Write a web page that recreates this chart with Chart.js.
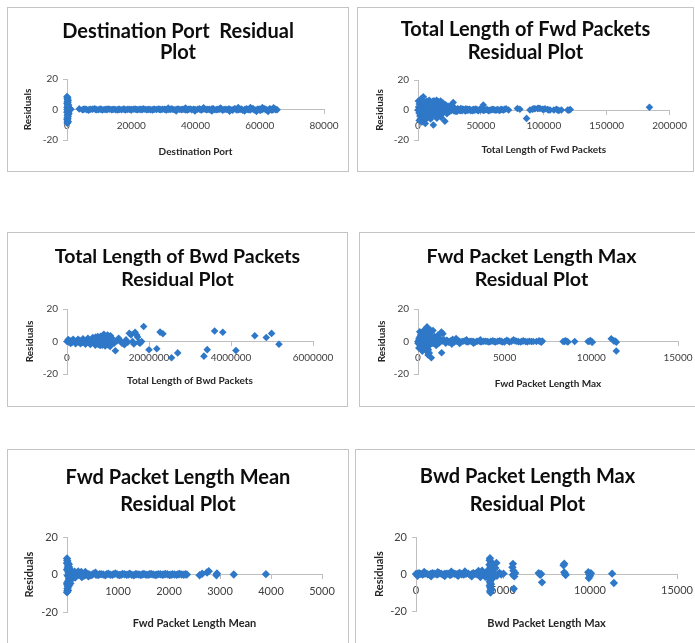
<!DOCTYPE html>
<html>
<head>
<meta charset="utf-8">
<script src="https://cdn.jsdelivr.net/npm/chart.js@4.4.0/dist/chart.umd.min.js"></script>
<style>
  html, body { margin: 0; padding: 0; background: #fff; }
  body { width: 695px; height: 643px; overflow: hidden; position: relative; }
  .panel { position: absolute; border: 1px solid #c4c4c4; box-sizing: border-box; background: #fff; }
  .panel canvas { position: absolute; left: 0; top: 0; }
</style>
</head>
<body>
<script>
(function() {
    "use strict";

    // ---- data ----
    var residualTicks = [-20, 0, 20];

    var destPortTicks = [0, 20000, 40000, 60000, 80000];
    var destPortPoints = [
        [0,8.5],[150,6.5],[300,4.5],[60,7],[220,2.5],[400,0.5],[100,-1.5],[500,3],[250,-3.5],[30,-5.5],
        [350,-2],[180,-7.5],[450,1.5],[80,-9],[600,-0.5],[280,5.5],[120,0],[380,-4.5],[0,-6.5],[200,-8.5],
        [100,8],[250,7.5],[50,5],[350,6],[150,3.5],[0,4],[450,-1],[300,-6],[100,-4],[0,-2],
        [500,-3],[200,-5.5],[400,-8],[0,1.5],[550,1],[250,0.5],[50,-8],[300,2],[150,-1],[600,-2.5],
        [700,0.3],[900,-0.3],[1200,0.2],[1000,0.5],
        [3800,0.4],
        [4800,-0.2],[5600,0.3],[6700,-0.4],[7400,0.15],[8500,0.45],[9200,-0.1],[10300,0.25],[11000,-0.3],[12100,0.1],[12800,0.35],
        [13900,-0.15],[14600,0.2],[15700,-0.25],[16400,0.05],[17600,0.3],[18200,-0.35],[19300,0.15],[20100,-0.05],[21200,0.25],[21900,-0.2],
        [23000,0.1],[23700,0.4],[24800,-0.15],[25500,0.05],[26600,-0.25],[27300,0.2],[28400,0.3],[29200,-0.1],[30300,0.15],[31000,-0.3],
        [32100,0.05],[32800,0.25],[33900,-0.2],[34600,0.35],[35700,-0.05],[36500,0.1],[37500,-0.25],[38300,0.3],[39400,0.15],[40100,-0.15],
        [41200,0.4],[41900,-0.3],[43000,0.2],[43800,0.05],[44800,-0.35],[45500,0.45],[46600,-0.1],[47400,0.25],[48400,-0.4],[49200,0.15],
        [50300,0.35],[51000,-0.2],[52100,0.5],[52900,-0.3],[53900,0.1],[54700,-0.45],[55800,0.4],[56500,-0.15],[57600,0.55],[58300,-0.35],
        [59400,0.2],[60200,-0.5],[61200,0.45],[62000,-0.25],[63100,0.5],[63800,-0.4],[64700,0.3],[65400,-0.2],
        [5200,0.1],[6150,-0.1],[7050,0],[7950,0.2],[8850,0.1],[9750,-0.2],[10650,0.1],[11550,0],[12450,-0.1],[13350,0.2],
        [14250,0],[15150,-0.1],[16050,0.1],[17000,-0.2],[17900,0.1],[18750,0.1],[19700,-0.1],[20650,0.2],[21550,0],[22450,0.1],
        [23350,-0.1],[24250,0.2],[25150,0],[26050,-0.1],[26950,0.1],[27850,0],[28800,0.1],[29750,0.2],[30650,-0.1],[31550,0.1],
        [32450,0.3],[33350,-0.2],[34250,0.1],[35150,0],[36100,0.2],[37000,-0.3],[37900,0.2],[38850,-0.1],[39750,0],[40650,0.2],
        [41550,-0.1],[42450,0.3],[43400,-0.2],[44300,0.1],[45150,0.4],[46050,-0.2],[47000,0.1],[47900,0.3],[48800,-0.2],[49750,0],
        [50650,0.2],[51550,-0.4],[52500,0.3],[53400,-0.1],[54300,0.3],[55250,-0.1],[56150,0.2],[57050,-0.3],[57950,0.4],[58850,-0.2],
        [59800,0.3],[60700,-0.1],[61600,0.4],[62550,-0.3],[63450,0.2],[64250,0.1],[65050,-0.1],
        [31500,0.9],[34000,-0.9],[36900,1],[39800,-1],[42500,1.1],[45100,-1],[47800,1],[50600,-1.1],[53300,1.2],[55300,-1],
        [57100,1.3],[59000,-1.2],[60800,1.2],[62600,-1.3],[64300,1.1]
    ];

    var fwdTotalTicks = [0, 50000, 100000, 150000, 200000];
    var fwdTotalPoints = [
        [0,0],[300,6],[500,2],[800,-2],[1000,4],[1500,-4],[1800,-6],[2000,1],[2500,-1],[3000,3],
        [3500,-3],[4000,5.5],[4200,8.8],[4500,-5],[5000,0],[5500,2],[5800,-9],[6000,-2],[6500,4],[7000,-1],
        [7500,1],[8000,3],[8500,-3],[9000,0],[9500,5],[10000,2],[10500,-2],[11000,-4],[11500,0],[12000,6],
        [12200,-10],[12500,3],[13000,-1],[13500,1],[14000,4],[14800,6.5],[15000,-3],[15500,0],[16000,2],[16500,5.5],
        [17000,-1],[17500,1],[18000,3],[18500,-5],[19000,0],[19500,4],[20000,-2],[20500,1],[21400,-7.5],[21000,3],
        [22000,0],[22500,-1],[23000,2],[24000,0.5],[25000,-1],[26000,1],[27000,0],[28000,5],[28500,-0.5],[29000,1.5],
        [30000,0],[31000,-1],[32000,0.5],[33000,0],[34000,1],[35000,-0.5],[36000,0.3],[37000,0],[38000,0.8],[39000,-0.3],
        [40000,0],[41000,0.5],[42000,-0.5],[43000,0],[44000,0.4],[45000,-0.2],[46000,0.6],[47000,0],[48000,-0.4],[49000,0.3],
        [51900,3.3],[50000,0],[52000,-0.3],[54000,0.2],[56000,-0.5],[58000,0],[60000,0.3],[62000,-0.2],[64000,0],[66000,0.5],
        [68000,0],[70000,0.8],[72000,0],[79000,1],[81000,0.5],[86300,-5.6],[89000,0],[91000,0.5],[93000,0.8],[95000,1],
        [97000,1],[99000,0.5],[101000,0.8],[103000,0.3],[105000,0],[108000,0],[110000,0.5],[112000,-0.3],[114000,0],[119000,0],
        [121000,0.3],[184000,1.8],
        [3000,7],[7000,6],[9000,6.5],[11000,5],[13000,6],[16000,4.5],[18000,6],[20000,4.5],[22000,3.5],[24000,2.5],
        [26000,3],[3000,-8],[7000,-5],[10000,-6],[15000,-5.5],[1000,-7],[2500,7.5],[6000,-6.5],[17000,-3.5],[23000,-2.5],
        [1200,1],[2200,3.5],[3200,-1.5],[4200,2],[5200,-2.5],[6200,1.5],[7200,3],[8200,-1],[9200,2],[10200,-0.5],
        [11200,3],[12200,1],[13200,-2],[14200,2],[15200,1],[16200,-1.5],[17200,2.5],[18200,1],[19200,-1],[20200,2.5],
        [21200,0],[22200,1.5],[23200,-0.5],[24200,1.5],[25200,0],[26200,-0.5],[27200,1.5],[29500,-0.8],[31500,0.8],[33500,-0.4],
        [35500,0.6],[37500,-0.6],[39500,0.5],[41500,0],[43500,-0.4],[45500,0.4],[47500,-0.2],[49500,0.6],[53000,0],[55000,0.3],
        [57000,-0.2],[59000,0.4],[61000,0],[63000,0.3],[65000,-0.3],[67000,0.2],[69000,0.5],[92000,0.8],[96000,1.2],[100000,0.3],
        [104000,0],[111000,0],[120000,-0.2]
    ];

    var bwdTotalTicks = [0, 2000000, 4000000, 6000000];
    var bwdTotalPoints = [
        [0,0],[60000,0.5],[120000,-0.5],[180000,0.3],[240000,-0.3],[300000,0.6],[360000,-0.6],[420000,0.2],[480000,-0.8],[540000,0.8],
        [600000,-0.4],[660000,1],[720000,-1],[780000,0.5],[840000,-1.2],[900000,1.5],[960000,-0.5],[1020000,1],
        [30000,1.2],[90000,-1.2],[150000,1.4],[210000,-1.4],[270000,1.4],[330000,-1.4],[390000,1.7],[450000,-1.7],[510000,2],[570000,-1.8],
        [630000,2.5],[690000,-2.2],[750000,3],[810000,-2.5],[870000,3.5],[930000,-2.8],[990000,4],[1050000,-3],[1000000,2],[880000,-1],
        [1060000,3.5],[960000,3],
        [20000,0.2],[45000,-0.2],[75000,0.1],[100000,0.3],[135000,-0.1],[165000,0.2],[195000,-0.3],[225000,0.1],[255000,0.4],[285000,-0.2],
        [315000,0.1],[345000,0.3],[375000,-0.4],[405000,0.2],[435000,0.5],[465000,-0.3],[495000,0.4],[525000,-0.5],[555000,0.6],[585000,0.1],
        [615000,-0.6],[645000,0.7],[675000,-0.2],[705000,0.8],[735000,0.3],[765000,-0.7],[795000,1.2],[825000,0.2],[855000,-0.5],[885000,1.8],
        [915000,0.5],[945000,-1.5],[975000,1],[1005000,-1],[1035000,0.5],
        [640000,1.8],[700000,2.8],[760000,-1.8],[820000,3.2],[860000,-2.2],[900000,4.5],[940000,2.5],[980000,-2],[1020000,3],[1040000,-2],
        [1100000,2],[1150000,-1],[1180000,-5.7],[1220000,0.5],[1260000,2],[1300000,0.4],[1340000,-1],[1400000,-2],[1440000,1],[1480000,-0.5],
        [1520000,5.1],[1560000,4.1],[1600000,0],[1630000,-1.5],[1660000,5.7],[1700000,4],[1720000,2.7],[1750000,-0.5],[1780000,-1],[1820000,0],
        [1870000,9.2],[2000000,-5.1],[2190000,-4.5],[2270000,5.8],[2340000,4.8],[2550000,-10],[2700000,-7],[3340000,-9],[3420000,-5],[3600000,6.5],
        [3800000,5.7],[4120000,-5.5],[4580000,3.5],[4860000,2.5],[4990000,5],[5170000,-1.7]
    ];

    var fwdMaxTicks = [0, 5000, 10000, 15000];
    var fwdMaxPoints = [
        [0,0],[60,2],[100,-2],[150,4],[200,-3],[250,1],[300,3],[350,-1],[400,5],[440,-5.2],
        [480,2],[520,9],[560,-3],[580,-8.3],[600,6],[640,0],[670,4],[700,-2],[720,7],[770,-10],
        [800,2.5],[865,6.7],[900,-1],[950,3],[1000,0],[1050,-2.5],[1100,1.5],[1150,4],[1200,-1],[1250,2],
        [1300,0],[1350,5.8],[1365,-6.9],[1440,4.8],[1500,1],[1600,-1],[1700,0.5],[1800,-0.5],
        [100,6],[200,5],[300,-4],[400,-3],[500,-6],[600,-5],[650,-7],[350,7],[50,-4],[250,-6],[700,5.5],[450,3.5],[550,1],
        [0,-1],[50,1],[120,3],[180,-1],[230,2.5],[280,-1.5],[330,1],[380,-2],[420,1],[470,-1],
        [530,3],[620,-1.5],[680,2],[750,0.5],[820,-1],[880,1],[1150,0],[1250,-0.5],[1400,0.3],[1550,0],
        [1650,0.8],[1750,-0.2],[1850,0.2],
        [1900,0.5],[2080,-0.4],[2310,0.3],[2490,-0.2],[2720,0.4],[2880,-0.3],[3110,0.1],[3290,-0.4],[3520,0.3],[3680,-0.1],
        [3910,0.2],[4090,-0.3],[4320,0.4],[4480,-0.2],[4710,0.5],[4890,-0.3],[5120,0.8],[5280,-0.3],[5510,1],[5690,0.2],
        [5920,-0.3],[6080,0.4],[6300,-0.2],[6540,0],
        [1990,0.1],[2200,0.2],[2400,0],[2600,0.2],[2800,-0.1],[3000,0.2],[3200,-0.1],[3400,0.1],[3600,-0.1],[3800,0.2],
        [4000,0],[4200,0.1],[4400,-0.1],[4600,0.2],[4800,0.1],[5000,-0.1],[5200,0.3],[5400,0.2],[5600,0.4],[5800,-0.1],
        [6000,0.2],[6200,0],[6420,0.2],[6650,0],
        [2000,1.3],[2400,-1.2],[2800,1.1],[3200,-1],[3600,1],[1950,-1.6],[2200,1.8],
        [6830,0],[6980,0.4],[7050,0],[7115,-0.4],[7170,0.3],[8370,0],[8450,0.1],[8520,0.5],[8600,0],[8650,-0.3],
        [9040,0],[9810,0],[9880,0.2],[9940,0.6],[10000,0],[10060,-0.4],[11150,1.7],[11290,0.4],[11370,0.3],[11440,-0.4],
        [11440,-5.8]
    ];

    var fwdMeanTicks = [0, 1000, 2000, 3000, 4000, 5000];
    var fwdMeanPoints = [
        [0,8.5],[10,6.5],[20,4.5],[0,2.5],[30,1],[15,-0.5],[40,-2],[25,-3.5],[5,-5.5],[10,-7.5],
        [0,-9.5],[35,5.5],[50,3],[60,-1],[45,0.5],[65,-4.8],[80,2],[90,-1.5],[100,1],[70,-3],[55,2.5],[20,-8.5],
        [0,6],[15,3.5],[30,-1],[45,-2.8],[0,-4.5],[20,-6.5],[10,-8.5],[40,4],[60,1.5],[75,-0.5],
        [5,7.5],[35,-6],[50,-4],[25,2],[90,0.5],[110,-0.5],[130,0.3],
        [120,0.8],[190,-0.6],[250,0.5],[330,-0.7],[390,0.3],[470,-0.4],[530,0.6],[610,-0.3],[670,0.2],[750,-0.4],
        [810,0.4],[890,-0.1],[950,0.6],[1030,-0.3],[1090,0.3],[1170,-0.2],[1230,0.4],[1310,-0.4],[1370,0.1],[1450,-0.3],
        [1510,0.3],[1590,-0.1],[1650,0.3],[1730,-0.3],[1790,0.2],[1870,-0.1],[1930,0.3],[2010,-0.3],[2070,0.1],[2150,-0.2],
        [2210,0.3],[2290,-0.1],[2350,0],
        [155,0.2],[220,-0.2],[290,0.1],[360,-0.2],[430,0.1],[500,0],[570,-0.1],[640,0.1],[710,0],[780,0.1],
        [850,-0.1],[920,0.2],[990,0],[1060,-0.1],[1130,0.1],[1200,0],[1270,-0.1],[1340,0.1],[1410,0],[1480,0.1],
        [1550,-0.1],[1620,0.1],[1690,0],[1760,-0.1],[1830,0.1],[1900,0],[1970,0.1],[2040,-0.1],[2110,0],[2180,0.1],
        [2250,0],[2320,0.1],
        [160,-1.6],[220,1.6],[290,-1.4],[360,1.3],[150,1.5],[280,1.3],[420,-1],[560,1],
        [2600,-0.4],[2650,0.4],[2745,1.1],[2780,1.8],[2930,-0.4],[2940,0.5],[3270,0],[3900,0.2]
    ];

    var bwdMaxTicks = [0, 5000, 10000, 15000];
    var bwdMaxPoints = [
        [0,0],[180,0.4],[390,-0.3],[560,0.3],[780,-0.4],[950,0.4],[1170,-0.2],[1340,0.5],[1560,-0.4],[1730,0.2],
        [1950,-0.5],[2120,0.3],[2340,-0.3],[2510,0.6],[2730,-0.3],[2900,0.3],[3120,-0.5],[3290,0.5],[3510,-0.2],[3680,0.3],[3900,-0.4],
        [90,-1],[470,1.1],[870,-1.2],[1250,1],[1650,-1.1],[2030,1.3],[2420,-1],[2810,1.4],[3200,-1.3],[3590,1.6],
        [3800,1.8],[3980,-1.5],[3700,-1.6],
        [90,0.2],[280,0],[470,0.2],[670,-0.1],[860,0.1],[1060,0.2],[1250,-0.2],[1450,0.1],[1640,0],[1840,0.2],
        [2030,-0.1],[2230,0.1],[2420,0.2],[2620,-0.1],[2810,0],[3010,0.2],[3200,-0.1],[3400,0.1],[3590,0],[3790,0.2],
        [4000,0],[4100,-0.5],
        [4250,8.5],[4300,6.5],[4220,5],[4350,3.5],[4270,2],[4320,0.5],[4200,-1],[4380,-2.5],[4240,-4],[4310,-5.5],
        [4260,-7],[4330,-8.5],[4280,-10],[4100,1],[4150,-2],[4400,1.2],
        [4230,7.5],[4290,4.5],[4260,3],[4310,1],[4250,-0.5],[4300,-3],[4270,-4.8],[4240,-6.2],[4300,-7.8],[4260,-9.2],
        [4350,-1.5],[4200,0.5],[4180,2.5],[4380,5.5],
        [4560,3.3],[4620,6],[4500,-0.5],[4715,0],[4800,0.6],[4900,-0.3],[5030,0.2],[4650,-1],
        [5570,5.5],[5540,3.6],[5600,1.8],[5570,-0.4],[5650,-1.3],[5620,-8],[5700,0.5],
        [7050,0.5],[7130,-0.4],[7190,0],[7240,-4.5],
        [8520,5.6],[8480,4.7],[8520,0.9],[8570,0],[8600,-0.5],
        [9900,1],[9950,0],[10000,-1],[9930,-2.2],[10050,0.4],
        [11270,0.2],[11370,-4.9]
    ];

    // ---- panel layout (absolute page pixels) ----
    var panels = [
        { title: ["Destination Port  Residual", "Plot"], xTitle: "Destination Port",
          points: destPortPoints, ticks: destPortTicks,
          box: [7, 7, 342, 165], area: [67, 324, 79, 140], titleY: [32, 53], xTitleY: 152, yTitleX: 28,
          titleSize: 20, axisSize: 10, r: 3.8 },
        { title: ["Total Length of Fwd Packets", "Residual Plot"], xTitle: "Total Length of Fwd Packets",
          points: fwdTotalPoints, ticks: fwdTotalTicks,
          box: [357, 7, 337, 165], area: [418, 674, 80, 140], titleY: [30, 53], xTitleY: 150, yTitleX: 380,
          titleSize: 20, axisSize: 10, r: 3.8 },
        { title: ["Total Length of Bwd Packets", "Residual Plot"], xTitle: "Total Length of Bwd Packets",
          points: bwdTotalPoints, ticks: bwdTotalTicks,
          box: [7, 232, 341, 175], area: [67, 313, 309, 374], titleY: [257, 280], xTitleY: 381, yTitleX: 30,
          titleSize: 19.5, axisSize: 10, r: 3.8 },
        { title: ["Fwd Packet Length Max", "Residual Plot"], xTitle: "Fwd Packet Length Max",
          points: fwdMaxPoints, ticks: fwdMaxTicks,
          box: [359, 232, 345, 175], area: [418, 678, 309, 374], titleY: [257, 280], xTitleY: 384, yTitleX: 382,
          titleSize: 19.7, axisSize: 10, r: 3.8 },
        { title: ["Fwd Packet Length Mean", "Residual Plot"], xTitle: "Fwd Packet Length Mean",
          points: fwdMeanPoints, ticks: fwdMeanTicks,
          box: [7, 449, 342, 210], area: [67, 322, 537, 612], titleY: [478, 505], xTitleY: 623, yTitleX: 29,
          titleSize: 20, axisSize: 11, r: 4.2 },
        { title: ["Bwd Packet Length Max", "Residual Plot"], xTitle: "Bwd Packet Length Max",
          points: bwdMaxPoints, ticks: bwdMaxTicks,
          box: [355, 449, 345, 210], area: [416, 678, 537, 611], titleY: [477, 505], xTitleY: 623, yTitleX: 379,
          titleSize: 20, axisSize: 11, r: 4.2 }
    ];

    var BLUE = '#2f78c8';
    var AXIS = '#bfbfbf';

    var drawPanel = function(p) {
        var div = document.createElement('div');
        div.className = 'panel';
        div.style.left = p.box[0] + 'px';
        div.style.top = p.box[1] + 'px';
        div.style.width = p.box[2] + 'px';
        div.style.height = p.box[3] + 'px';
        var cv = document.createElement('canvas');
        var cw = p.box[2] - 2, ch = p.box[3] - 2;
        cv.width = cw;
        cv.height = ch;
        cv.style.width = cw + 'px';
        cv.style.height = ch + 'px';
        div.appendChild(cv);
        document.body.appendChild(div);

        var ox = p.box[0] + 1, oy = p.box[1] + 1;
        var L = p.area[0] - ox, R = p.area[1] - ox, T = p.area[2] - oy, B = p.area[3] - oy;
        var zero = (T + B) / 2;
        var lh = p.titleY[1] - p.titleY[0];
        var alh = Math.round(p.axisSize * 1.2);
        var xH = 60;
        var last = p.ticks[p.ticks.length - 1];

        new Chart(cv, {
            type: 'scatter',
            data: {
                datasets: [{
                    data: p.points.map(function(d) { return { x: d[0], y: d[1] }; }),
                    pointStyle: 'rectRot',
                    pointRadius: p.r,
                    pointHoverRadius: p.r,
                    backgroundColor: BLUE,
                    borderWidth: 0,
                    clip: false
                }]
            },
            options: {
                responsive: false,
                animation: false,
                events: [],
                layout: { padding: { left: 0, top: 0, right: 0, bottom: ch - B } },
                plugins: {
                    legend: { display: false },
                    tooltip: { enabled: false },
                    title: {
                        display: true,
                        text: p.title,
                        color: '#0d0d0d',
                        font: { family: 'Lato', size: p.titleSize, weight: 'bold', lineHeight: lh + 'px' },
                        padding: { top: (p.titleY[0] - oy) - lh / 2, bottom: T - ((p.titleY[1] - oy) + lh / 2) }
                    }
                },
                scales: {
                    x: {
                        type: 'linear',
                        position: { y: 0 },
                        min: p.ticks[0],
                        max: last,
                        ticks: {
                            stepSize: p.ticks[1] - p.ticks[0],
                            autoSkip: false,
                            maxRotation: 0,
                            padding: 6,
                            color: '#404040',
                            font: { family: 'Lato', size: p.axisSize },
                            callback: function(v) { return String(v); }
                        },
                        grid: { drawOnChartArea: false, tickLength: 4, color: AXIS },
                        border: { color: AXIS },
                        title: {
                            display: true,
                            text: p.xTitle,
                            color: '#262626',
                            font: { family: 'Lato', size: p.axisSize, weight: 'bold', lineHeight: alh + 'px' },
                            padding: { top: 0, bottom: zero + xH - alh / 2 - (p.xTitleY - oy) }
                        },
                        afterFit: function(s) { s.height = xH; }
                    },
                    y: {
                        type: 'linear',
                        position: 'left',
                        min: residualTicks[0],
                        max: residualTicks[residualTicks.length - 1],
                        ticks: {
                            stepSize: residualTicks[1] - residualTicks[0],
                            padding: 5,
                            color: '#404040',
                            font: { family: 'Lato', size: p.axisSize }
                        },
                        grid: { drawOnChartArea: false, tickLength: 4, color: AXIS },
                        border: { color: AXIS },
                        title: {
                            display: true,
                            text: 'Residuals',
                            color: '#262626',
                            font: { family: 'Lato', size: p.axisSize, weight: 'bold', lineHeight: alh + 'px' },
                            padding: { top: (p.yTitleX - ox) - alh / 2, bottom: 0 }
                        },
                        afterFit: function(s) { s.width = L; }
                    },
                    // empty right-hand axis: only reserves the margin right of the plot
                    yRight: {
                        axis: 'y',
                        type: 'linear',
                        position: 'right',
                        ticks: { display: false },
                        grid: { display: false, drawTicks: false },
                        border: { display: false },
                        afterFit: function(s) { s.width = cw - R; }
                    }
                }
            }
        });
    };

    panels.forEach(drawPanel);
})();
</script>
</body>
</html>
